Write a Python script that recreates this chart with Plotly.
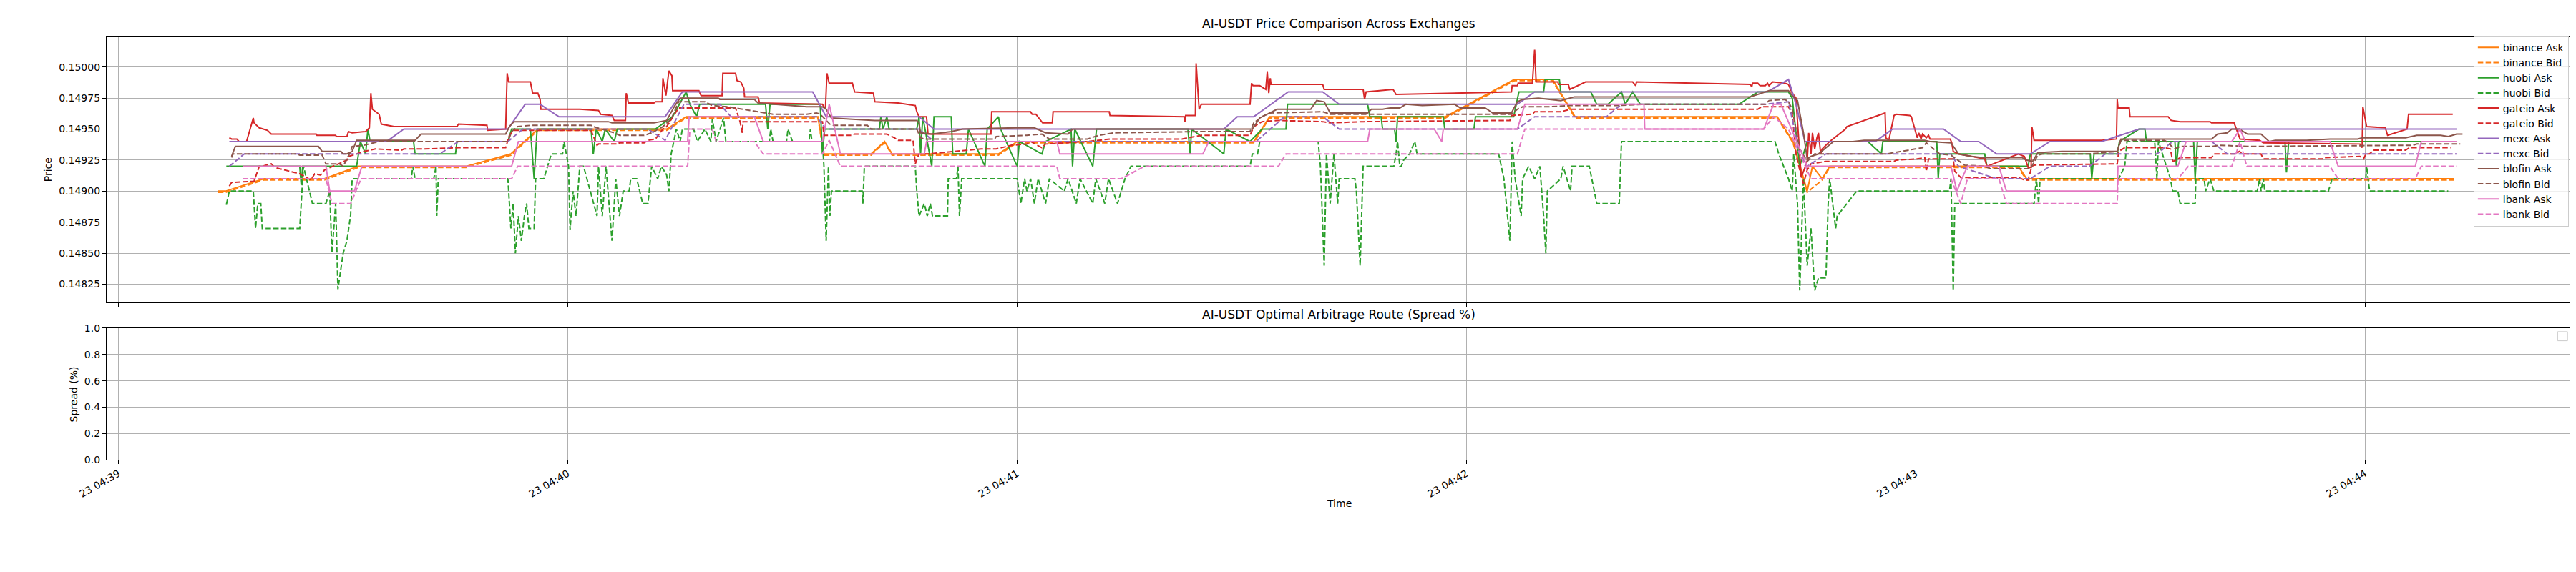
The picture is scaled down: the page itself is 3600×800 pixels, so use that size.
import pandas as pd
import plotly.graph_objects as go

# AI-USDT ask/bid quotes per exchange, (seconds after 04:39:00, price)
# only the turning points of each line

binance_ask = [
    (13.3, .14900), (14.3, .14900), (19.4, .14910), (27.5, .14910), (32.0, .14920), (46.4, .14920),
    (52.4, .14930), (56.0, .14950), (73.2, .14950), (75.8, .14960), (93.4, .14960), (94.2, .14930),
    (100.5, .14930), (102.3, .14940), (103.3, .14930), (117.5, .14930), (120.0, .14940), (151.6, .14940),
    (153.7, .14960), (177.2, .14960), (186.4, .14990), (191.5, .14990), (194.5, .14960), (221.5, .14960),
    (223.6, .14940), (225.5, .14900), (226.2, .14920), (227.5, .14910), (228.5, .14920), (253.7, .14920),
    (254.8, .14910), (311.9, .14910)
]
binance_bid = [
    (13.3, .14899), (14.3, .14899), (19.4, .14909), (27.5, .14909), (32.0, .14919), (46.4, .14919),
    (52.4, .14929), (56.0, .14949), (73.2, .14949), (75.8, .14959), (93.4, .14959), (94.2, .14929),
    (100.5, .14929), (102.3, .14939), (103.3, .14929), (117.5, .14929), (120.0, .14939), (151.6, .14939),
    (153.7, .14959), (177.2, .14959), (186.4, .14989), (191.5, .14989), (194.5, .14959), (221.5, .14959),
    (223.6, .14939), (225.5, .14899), (227.5, .14909), (228.5, .14919), (253.7, .14919), (254.8, .14909),
    (311.9, .14909)
]
huobi_ask = [
    (14.4, .14920), (24.2, .14920), (24.4, .14905), (24.6, .14920), (31.8, .14920), (32.3, .14940),
    (33.0, .14930), (33.3, .14950), (33.6, .14940), (39.4, .14940), (39.6, .14930), (45.0, .14930),
    (45.2, .14940), (52.0, .14940), (52.5, .14950), (55.0, .14950), (55.5, .14910), (55.9, .14950),
    (63.1, .14950), (63.4, .14930), (63.8, .14950), (64.6, .14940), (65.0, .14950), (66.2, .14940),
    (66.6, .14950), (71.7, .14950), (74.0, .14960), (75.8, .14980), (76.3, .14970), (77.2, .14960),
    (77.6, .14970), (86.4, .14970), (86.7, .14950), (87.0, .14970),
    (93.7, .14970), (94.0, .14930), (94.3, .14950), (101.6, .14950), (101.8, .14960), (102.1, .14950),
    (102.6, .14960), (102.9, .14950), (106.6, .14950), (106.9, .14960), (107.1, .14930), (107.4, .14960),
    (108.6, .14920), (108.9, .14960), (111.2, .14960), (111.4, .14930), (113.2, .14930), (113.5, .14950),
    (115.7, .14920), (116.0, .14950), (117.5, .14960), (117.8, .14950), (120.0, .14920), (120.3, .14940),
    (123.3, .14930), (123.8, .14940), (127.2, .14950), (127.4, .14920), (127.7, .14950), (130.1, .14920),
    (130.6, .14950), (142.8, .14950), (143.1, .14930), (143.3, .14950), (147.6, .14930), (147.9, .14950),
    (151.1, .14940), (152.7, .14950), (155.9, .14950), (156.1, .14970), (166.8, .14970), (167.1, .14960),
    (168.6, .14960), (168.8, .14950), (170.4, .14950), (170.6, .14940), (170.8, .14960), (176.9, .14960),
    (177.1, .14950), (181.0, .14950), (181.2, .14960), (186.3, .14960), (187.0, .14980), (190.3, .14980),
    (190.5, .14990), (192.4, .14990), (192.6, .14980), (196.6, .14980), (197.4, .14970), (198.9, .14970),
    (200.7, .14980), (201.2, .14970), (202.2, .14980), (203.2, .14970), (216.4, .14970), (218.9, .14980),
    (223.0, .14980), (223.5, .14975), (224.5, .14920), (225.5, .14940), (233.6, .14940), (235.4, .14930),
    (235.6, .14940), (242.8, .14940), (243.0, .14910), (243.2, .14930),
    (249.2, .14930), (249.5, .14920), (255.0, .14920), (255.3, .14930), (263.3, .14930), (263.5, .14910),
    (263.8, .14930), (266.9, .14930), (267.2, .14940), (269.8, .14950), (270.6, .14950), (270.8, .14940),
    (274.6, .14940), (274.8, .14920), (275.1, .14940), (277.1, .14940), (277.3, .14910), (277.6, .14940),
    (289.3, .14940), (289.5, .14915), (289.8, .14940), (311.9, .14940)
]
huobi_bid = [
    (14.4, .14889), (14.8, .14900), (18.0, .14900), (18.3, .14870), (18.6, .14890), (19.0, .14890),
    (19.2, .14870), (24.2, .14870), (24.7, .14920), (25.9, .14890), (27.7, .14890), (28.2, .14900),
    (28.5, .14850), (29.0, .14890), (29.3, .14821), (30.0, .14850), (30.5, .14860), (31.0, .14881),
    (31.2, .14910), (39.1, .14910), (39.3, .14920), (39.6, .14910), (42.1, .14910), (42.4, .14920),
    (42.5, .14880), (42.7, .14910), (52.0, .14910), (52.4, .14870), (52.7, .14890), (53.0, .14850),
    (53.4, .14880), (53.8, .14860), (54.2, .14880), (54.5, .14890), (54.8, .14870), (55.5, .14870),
    (55.7, .14910), (56.8, .14910), (57.8, .14930), (59.3, .14930), (59.5, .14940), (59.8, .14930),
    (60.1, .14920), (60.3, .14869), (60.7, .14900), (61.1, .14880), (61.6, .14920), (62.1, .14920),
    (63.9, .14880), (64.1, .14920), (64.6, .14880), (65.1, .14920), (65.9, .14860), (66.4, .14910),
    (66.9, .14880), (67.4, .14900), (68.2, .14900), (68.4, .14910), (69.2, .14910), (70.0, .14890),
    (70.7, .14890), (71.2, .14920), (72.0, .14910), (72.5, .14920), (73.2, .14913), (73.5, .14900),
    (73.8, .14930), (74.5, .14950), (75.0, .14940), (75.3, .14950), (76.8, .14950), (77.3, .14940),
    (78.3, .14950), (79.1, .14940), (79.3, .14958), (79.8, .14940), (80.8, .14959), (81.1, .14940),
    (86.9, .14940), (87.1, .14950), (87.4, .14940), (89.2, .14940), (89.4, .14950),
    (90.0, .14940), (92.2, .14940), (92.4, .14950), (92.6, .14940), (94.0, .14940), (94.2, .14920),
    (94.5, .14860), (94.8, .14920), (95.0, .14880), (95.2, .14900), (99.3, .14900), (99.4, .14890),
    (99.6, .14920), (106.4, .14920), (106.6, .14900), (106.9, .14880), (107.6, .14890), (108.0, .14880),
    (108.4, .14890), (108.7, .14880), (110.7, .14880), (110.8, .14910), (111.9, .14910), (112.1, .14920),
    (112.3, .14880), (112.6, .14910), (120.0, .14910), (120.5, .14890), (121.0, .14910), (121.3, .14900),
    (121.8, .14910), (122.3, .14890), (122.8, .14910), (123.8, .14890), (124.3, .14910), (126.3, .14900),
    (126.8, .14910), (127.9, .14890), (128.4, .14910), (130.1, .14890), (130.5, .14910), (131.7, .14890),
    (132.2, .14910), (133.4, .14890), (134.4, .14910), (135.2, .14920), (151.1, .14920), (151.4, .14930),
    (152.1, .14930), (152.4, .14940), (160.2, .14940), (160.5, .14920), (161.0, .14840), (161.3, .14930),
    (161.8, .14890), (162.3, .14930), (162.8, .14890), (163.0, .14910), (165.1, .14910), (165.3, .14900),
    (165.8, .14840), (166.2, .14920), (168.2, .14920),
    (170.3, .14920), (170.6, .14930), (170.8, .14940), (171.1, .14920), (171.3, .14920), (171.6, .14925),
    (172.4, .14930), (173.1, .14940), (173.4, .14930), (184.3, .14930), (185.0, .14910), (185.8, .14860),
    (186.1, .14940), (186.5, .14910), (187.3, .14880), (187.5, .14910), (188.3, .14920), (189.1, .14910),
    (189.8, .14920), (190.3, .14880), (190.6, .14850), (190.8, .14900), (192.6, .14910), (192.9, .14920),
    (193.9, .14900), (194.1, .14920), (196.4, .14920), (197.4, .14890), (200.4, .14890), (200.7, .14940),
    (221.2, .14940), (221.7, .14930), (223.0, .14910), (223.5, .14900), (223.7, .14930), (224.2, .14890),
    (224.5, .14820), (225.0, .14910), (225.5, .14840), (226.0, .14870), (226.5, .14820), (227.0, .14830),
    (228.0, .14830), (228.3, .14890), (228.5, .14910), (229.3, .14870), (229.5, .14880), (232.1, .14900),
    (244.5, .14900), (244.7, .14910), (245.0, .14820), (245.2, .14890),
    (255.8, .14890), (256.1, .14910), (256.4, .14890), (256.6, .14910), (267.1, .14910), (267.9, .14920),
    (268.2, .14940), (271.9, .14940), (272.2, .14910), (272.4, .14940), (274.0, .14910), (274.3, .14900),
    (275.0, .14900), (275.3, .14890), (277.3, .14890), (277.4, .14910), (278.5, .14910), (278.7, .14900),
    (279.3, .14910), (279.8, .14900), (285.6, .14900), (285.9, .14910), (286.1, .14900), (286.4, .14910),
    (286.6, .14900), (295.1, .14900), (295.6, .14910), (300.1, .14910), (300.2, .14920), (300.6, .14900),
    (311.1, .14900)
]
gateio_ask = [
    (14.8, .14943), (15.1, .14942), (15.8, .14942), (16.1, .14940), (17.1, .14940), (18.0, .14959),
    (18.1, .14955), (18.8, .14951), (19.9, .14949), (20.4, .14946), (26.4, .14946), (26.5, .14945),
    (29.0, .14945), (29.1, .14944), (30.5, .14944), (30.7, .14948), (31.2, .14947), (33.0, .14948),
    (33.5, .14951), (33.7, .14979), (33.9, .14966), (34.3, .14964), (34.8, .14962), (35.1, .14954),
    (36.8, .14952), (45.2, .14952), (45.4, .14954), (49.2, .14953), (49.3, .14949), (51.7, .14950),
    (51.9, .14995), (52.1, .14988), (55.0, .14988), (55.3, .14979), (56.0, .14979), (56.3, .14974),
    (56.4, .14966), (61.6, .14966), (64.1, .14965), (64.4, .14962), (65.9, .14961), (66.2, .14957),
    (67.7, .14957), (67.8, .14979), (68.1, .14971), (71.5, .14971), (71.7, .14972), (72.6, .14972),
    (72.7, .14991), (73.1, .14977), (73.5, .14997), (73.9, .14993), (74.0, .14981), (77.5, .14981),
    (77.8, .14977), (80.6, .14977), (80.7, .14995), (82.4, .14995), (82.6, .14989), (83.1, .14988),
    (83.5, .14983), (83.6, .14976), (85.4, .14976), (85.6, .14971),
    (94.0, .14970), (94.4, .14966), (94.6, .14995), (94.9, .14987), (98.0, .14987), (98.3, .14980),
    (100.8, .14979), (101.0, .14972), (104.1, .14971), (106.4, .14969), (106.6, .14964), (106.9, .14960),
    (107.9, .14960), (108.1, .14946), (116.5, .14946), (116.6, .14964), (121.8, .14964), (122.0, .14962),
    (122.5, .14962), (123.4, .14955), (124.7, .14955), (124.8, .14964), (132.3, .14964), (132.4, .14961),
    (142.3, .14960), (142.4, .14956), (142.5, .14961), (143.8, .14961), (143.9, .15003), (144.3, .14966),
    (144.6, .14970), (151.1, .14970), (151.3, .14987), (151.5, .14985), (152.4, .14985), (153.2, .14982),
    (153.4, .14996), (153.6, .14979), (153.8, .14991), (153.9, .14986), (160.8, .14986), (161.0, .14982),
    (166.2, .14982), (166.4, .14974), (166.6, .14980),
    (170.2, .14982), (170.6, .14978), (186.0, .14980), (186.1, .14985), (186.8, .14985), (186.9, .14987),
    (188.8, .14987), (189.1, .15014), (189.3, .14988), (192.2, .14988), (192.3, .14986), (193.6, .14986),
    (193.8, .14982), (195.9, .14988), (202.2, .14988), (202.6, .14985), (202.7, .14988), (217.9, .14986),
    (218.1, .14984), (218.2, .14987), (218.9, .14987), (219.2, .14985), (219.9, .14985), (220.2, .14987),
    (220.4, .14985), (220.9, .14988), (222.5, .14987), (223.0, .14986), (223.5, .14979), (224.0, .14975),
    (224.7, .14911), (225.5, .14924), (225.7, .14947), (226.0, .14930), (226.2, .14947), (226.5, .14934),
    (226.8, .14943), (227.0, .14947), (227.3, .14930), (227.5, .14934), (228.5, .14940), (230.6, .14950),
    (230.8, .14952), (235.9, .14963), (236.0, .14943), (236.4, .14941), (237.1, .14961), (237.4, .14962),
    (239.2, .14961), (239.4, .14960), (240.2, .14943), (240.4, .14947), (240.7, .14942), (240.9, .14946),
    (241.4, .14943), (241.7, .14945), (241.9, .14942), (244.6, .14942), (244.8, .14939), (245.0, .14932),
    (245.7, .14930),
    (247.4, .14928), (249.2, .14926), (249.5, .14920), (253.7, .14930), (254.5, .14928), (255.0, .14919),
    (255.4, .14919), (255.5, .14952), (255.8, .14941), (264.8, .14941), (266.8, .14942), (266.9, .14974),
    (267.0, .14967), (268.5, .14967), (268.6, .14960), (273.7, .14960), (274.1, .14957), (275.3, .14956),
    (279.3, .14956), (279.5, .14955), (282.5, .14955), (282.7, .14952), (283.3, .14942), (285.9, .14941),
    (286.4, .14939), (299.3, .14938), (299.6, .14935), (299.7, .14968), (300.0, .14958), (300.2, .14952),
    (302.7, .14951), (303.0, .14945), (305.6, .14950), (305.8, .14962), (311.7, .14962)
]
gateio_bid = [
    (14.8, .14904), (15.1, .14907), (18.1, .14908), (18.8, .14920), (19.1, .14920), (20.4, .14922),
    (20.9, .14919), (24.2, .14914), (25.7, .14909), (26.2, .14914), (27.0, .14913), (27.5, .14917),
    (30.5, .14925), (30.7, .14928), (31.8, .14930), (32.8, .14932), (34.3, .14934), (37.8, .14933),
    (38.1, .14934), (40.9, .14934), (45.4, .14935), (51.7, .14935), (52.2, .14945), (52.8, .14949),
    (63.1, .14949), (63.9, .14937), (64.1, .14938), (66.7, .14938), (66.9, .14939), (70.2, .14939),
    (70.7, .14941), (71.7, .14942), (72.7, .14950), (73.2, .14952), (74.8, .14967), (82.4, .14967),
    (83.0, .14956), (83.3, .14947), (83.4, .14956),
    (94.0, .14956), (94.2, .14945), (98.0, .14945), (98.3, .14946), (102.6, .14946), (103.6, .14943),
    (104.1, .14941), (106.1, .14941), (106.4, .14922), (106.9, .14930), (108.1, .14930), (115.2, .14934),
    (117.2, .14934), (119.3, .14937), (121.3, .14938), (121.8, .14940), (123.3, .14935), (123.8, .14938),
    (129.4, .14940), (130.9, .14941), (132.4, .14942), (142.0, .14942), (144.6, .14945), (151.1, .14945),
    (151.6, .14952), (152.7, .14956), (154.7, .14957), (160.8, .14956), (161.8, .14955), (166.3, .14956),
    (185.8, .14957), (186.0, .14961), (188.8, .14962), (189.1, .14964), (192.6, .14964), (193.9, .14966),
    (218.9, .14966), (219.4, .14968), (223.0, .14968), (223.5, .14962), (224.0, .14930), (224.5, .14917),
    (225.0, .14906), (225.5, .14917), (226.0, .14922), (228.0, .14924), (237.1, .14924), (237.4, .14925),
    (240.2, .14926), (241.2, .14927), (241.4, .14916), (241.7, .14926), (245.0, .14926), (245.2, .14916),
    (246.0, .14911),
    (253.7, .14911), (254.5, .14909), (255.0, .14909), (255.5, .14920), (255.8, .14921), (266.9, .14922),
    (267.1, .14932), (267.9, .14935), (273.2, .14935), (274.0, .14934), (274.3, .14924), (274.8, .14925),
    (275.3, .14927), (279.5, .14927), (279.8, .14930), (282.7, .14930), (283.2, .14932), (283.7, .14930),
    (286.1, .14930), (286.4, .14926), (294.3, .14926), (294.5, .14927), (299.3, .14928), (299.8, .14926),
    (300.1, .14930), (300.6, .14930), (301.1, .14933), (305.4, .14933), (305.9, .14935), (311.4, .14935)
]
mexc_ask = [
    (14.8, .14940), (35.8, .14940), (38.1, .14950), (52.0, .14950), (54.3, .14970), (56.3, .14970),
    (58.8, .14960), (73.0, .14960), (75.3, .14980), (92.7, .14980), (94.5, .14960), (106.9, .14960),
    (108.9, .14950), (147.6, .14950), (149.4, .14960), (151.6, .14960), (156.2, .14980), (160.8, .14980),
    (163.0, .14970), (186.8, .14970), (189.1, .14980), (220.2, .14980), (223.0, .14990), (224.0, .14970),
    (225.2, .14940), (234.6, .14940), (236.9, .14950), (243.7, .14950), (246.0, .14940), (248.4, .14940),
    (250.8, .14930), (255.3, .14930), (257.9, .14940), (264.8, .14940), (269.8, .14950), (312.2, .14950)
]
mexc_bid = [
    (14.8, .14920), (16.8, .14930), (42.9, .14930), (45.4, .14940), (52.0, .14940), (54.0, .14950),
    (70.7, .14950), (73.0, .14941), (75.5, .14970), (80.3, .14970), (81.8, .14960), (93.2, .14960),
    (94.5, .14950), (106.9, .14950), (108.9, .14940), (151.9, .14940), (155.7, .14960), (160.8, .14960),
    (163.0, .14950), (186.8, .14950), (189.1, .14960), (198.7, .14960), (200.7, .14970), (219.9, .14970),
    (223.0, .14972), (224.5, .14930), (225.5, .14920), (228.0, .14930), (244.7, .14930), (245.7, .14920),
    (250.8, .14910), (255.3, .14910), (257.9, .14920), (263.2, .14920), (265.3, .14930), (272.2, .14930),
    (274.3, .14940), (279.5, .14940), (281.6, .14930), (312.2, .14930)
]
blofin_ask = [
    (15.1, .14928), (15.6, .14936), (26.7, .14936), (27.2, .14932), (29.7, .14932), (30.0, .14930),
    (30.5, .14930), (31.2, .14932), (31.8, .14941), (39.6, .14941), (40.4, .14946), (51.7, .14946),
    (52.2, .14952), (52.8, .14956), (65.4, .14956), (65.9, .14955), (71.5, .14955), (73.2, .14957),
    (74.3, .14969), (75.0, .14975), (80.1, .14975), (80.3, .14974), (84.9, .14974), (85.4, .14971),
    (91.9, .14968), (94.0, .14968), (94.5, .14966), (95.2, .14959), (98.0, .14958), (101.0, .14957),
    (106.6, .14957), (106.9, .14955), (107.1, .14947), (108.6, .14946), (111.2, .14948), (112.7, .14950),
    (119.8, .14951), (122.3, .14951), (123.8, .14947), (126.8, .14946), (127.4, .14950), (151.4, .14950),
    (152.4, .14959), (154.7, .14966), (159.2, .14966), (160.0, .14973), (161.0, .14972), (161.8, .14963),
    (166.8, .14963), (167.3, .14966), (168.8, .14966), (169.8, .14967), (171.1, .14967), (171.9, .14970),
    (174.1, .14969), (178.4, .14970), (179.2, .14967), (182.5, .14967), (183.5, .14963), (186.0, .14963),
    (186.8, .14972), (187.5, .14974), (189.6, .14975), (191.1, .14974), (192.6, .14973), (194.4, .14976),
    (217.9, .14976), (220.4, .14981), (223.0, .14981), (223.5, .14977), (224.2, .14973), (225.0, .14947),
    (225.5, .14926), (226.0, .14928), (227.0, .14930), (229.0, .14940), (231.6, .14940), (233.1, .14941),
    (241.2, .14941), (241.9, .14940), (244.7, .14939), (245.7, .14930), (247.4, .14928), (249.0, .14927),
    (254.2, .14927), (254.8, .14925), (255.6, .14924), (256.3, .14931), (259.5, .14932), (266.9, .14932),
    (267.4, .14942), (279.5, .14942), (280.3, .14946), (281.6, .14947), (282.2, .14950), (283.2, .14950),
    (284.3, .14946), (286.1, .14946), (287.2, .14940), (288.0, .14941), (292.2, .14941), (295.3, .14942),
    (299.0, .14942), (299.6, .14943), (305.4, .14943), (306.9, .14945), (310.1, .14945), (311.1, .14944),
    (312.2, .14946), (313.0, .14946)
]
blofin_bid = [
    (15.1, .14927), (15.3, .14930), (23.9, .14930), (24.2, .14929), (27.2, .14929), (27.7, .14922),
    (29.5, .14922), (30.0, .14920), (31.0, .14932), (31.2, .14936), (32.8, .14937), (34.3, .14939),
    (34.8, .14940), (52.0, .14940), (52.5, .14948), (53.3, .14952), (55.0, .14953), (63.1, .14953),
    (63.4, .14952), (66.2, .14947), (66.9, .14945), (70.2, .14945), (71.2, .14947), (72.7, .14952),
    (73.8, .14958), (74.8, .14972), (78.3, .14972), (79.3, .14969), (81.3, .14968), (83.4, .14966),
    (87.4, .14962), (91.9, .14962), (93.2, .14963), (93.7, .14962), (95.0, .14954), (95.5, .14953),
    (100.0, .14953), (100.5, .14950), (106.6, .14950), (107.1, .14943), (107.6, .14942), (117.0, .14942),
    (117.2, .14944), (121.3, .14945), (123.3, .14946), (124.3, .14942), (129.4, .14942), (130.9, .14945),
    (132.9, .14947), (144.6, .14948), (151.1, .14948), (151.6, .14955), (152.7, .14960), (153.7, .14963),
    (159.2, .14964), (160.8, .14964), (161.8, .14962), (186.0, .14962), (186.8, .14966), (187.5, .14968),
    (191.1, .14968), (193.9, .14969), (200.2, .14969), (203.7, .14970), (219.9, .14970), (220.4, .14973),
    (222.5, .14974), (223.0, .14972), (223.5, .14966), (224.5, .14934), (225.5, .14924), (226.0, .14927),
    (226.5, .14930), (236.1, .14930), (240.2, .14934), (240.9, .14935), (241.4, .14939), (242.2, .14935),
    (242.7, .14933), (243.2, .14930), (244.7, .14929), (246.5, .14921), (249.2, .14920), (250.0, .14918),
    (255.3, .14918), (256.3, .14929), (256.9, .14930), (263.2, .14930), (266.9, .14932), (267.4, .14941),
    (273.2, .14941), (273.7, .14939), (274.5, .14934), (275.3, .14936), (279.5, .14936), (280.6, .14937),
    (284.3, .14936), (306.4, .14937), (306.9, .14938), (312.7, .14938)
]
lbank_ask = [
    (16.6, .14920), (27.7, .14920), (28.2, .14900), (31.5, .14900), (32.5, .14920), (52.5, .14920),
    (53.4, .14940), (76.0, .14940), (76.2, .14960), (84.9, .14960), (86.1, .14940), (94.0, .14940),
    (94.9, .14970), (96.4, .14930), (107.6, .14930), (107.9, .14940), (125.3, .14940), (125.7, .14930),
    (144.8, .14930), (145.6, .14940), (166.8, .14940), (167.1, .14950), (175.7, .14950), (176.7, .14940),
    (176.9, .14950), (186.8, .14950), (187.8, .14970), (203.7, .14970), (203.8, .14950), (219.7, .14950),
    (221.0, .14970), (222.0, .14970), (225.5, .14920), (244.7, .14920), (245.5, .14900), (246.0, .14908),
    (246.9, .14920), (251.1, .14920), (252.1, .14900), (266.9, .14900), (267.0, .14920), (275.0, .14920),
    (276.1, .14940), (282.2, .14940), (283.3, .14950), (284.0, .14940), (295.3, .14940), (296.4, .14920),
    (306.7, .14920), (307.5, .14940), (312.2, .14940)
]
lbank_bid = [
    (16.6, .14910), (27.7, .14910), (28.5, .14890), (31.0, .14890), (32.4, .14910), (52.5, .14910),
    (53.3, .14920), (76.0, .14920), (76.3, .14950), (79.3, .14950), (79.8, .14940), (84.9, .14940),
    (86.1, .14930), (94.0, .14930), (94.9, .14941), (96.4, .14920), (125.3, .14920), (125.7, .14910),
    (133.9, .14910), (137.0, .14920), (154.9, .14920), (155.9, .14930), (186.8, .14930), (187.8, .14950),
    (219.7, .14950), (221.0, .14960), (223.0, .14950), (226.0, .14910), (244.7, .14910), (246.0, .14890),
    (246.9, .14910), (251.1, .14910), (252.1, .14890), (266.9, .14890), (267.0, .14910), (275.0, .14910),
    (276.4, .14920), (282.2, .14920), (283.3, .14940), (284.2, .14920), (295.3, .14920), (296.4, .14910),
    (306.7, .14910), (307.5, .14920), (312.2, .14920)
]

exchanges = ["binance", "huobi", "gateio", "mexc", "blofin", "lbank"]
colors = ["#ff7f0e", "#2ca02c", "#d62728", "#9467bd", "#8c564b", "#e377c2"]
quotes = {
    "binance": (binance_ask, binance_bid),
    "huobi": (huobi_ask, huobi_bid),
    "gateio": (gateio_ask, gateio_bid),
    "mexc": (mexc_ask, mexc_bid),
    "blofin": (blofin_ask, blofin_bid),
    "lbank": (lbank_ask, lbank_bid),
}

start = pd.Timestamp("2025-01-23 04:39:00")
x_range = [start + pd.Timedelta(seconds=-1.6), start + pd.Timedelta(seconds=327.6)]

FONT = "DejaVu Sans"
fig = go.Figure()

for name, color in zip(exchanges, colors):
    for side, pts, dash in [("Ask", quotes[name][0], "solid"), ("Bid", quotes[name][1], "7.5px,3.3px")]:
        df = pd.DataFrame(pts, columns=["sec", "price"])
        df["time"] = start + pd.to_timedelta(df["sec"], unit="s")
        fig.add_trace(go.Scatter(
            x=df["time"], y=df["price"],
            mode="lines",
            name=f"{name} {side}",
            line=dict(color=color, width=2, dash=dash),
            xaxis="x", yaxis="y",
        ))

axis_common = dict(
    showline=True, mirror=True, linecolor="black", linewidth=1,
    ticks="outside", ticklen=5, tickcolor="black",
    showgrid=True, gridcolor="#b0b0b0", gridwidth=1,
    zeroline=False,
    tickfont=dict(family=FONT, size=14, color="black"),
)

fig.update_layout(
    width=3600, height=800,
    margin=dict(l=0, r=0, t=0, b=0),
    plot_bgcolor="white", paper_bgcolor="white",
    font=dict(family=FONT, size=14, color="black"),
    showlegend=True,
    legend=dict(
        x=0.9949, xanchor="right", y=0.957, yanchor="top",
        bgcolor="rgba(255,255,255,0.8)", bordercolor="#cccccc", borderwidth=1,
        font=dict(family=FONT, size=14), itemwidth=30,
    ),
    xaxis=dict(
        axis_common, domain=[0.02833, 0.99611], anchor="y", type="date",
        range=x_range, dtick=60000, tick0=start, showticklabels=False,
    ),
    yaxis=dict(
        axis_common, domain=[0.48125, 0.95375], anchor="x",
        range=[0.148105, 0.150239], tick0=0.14825, dtick=0.00025, tickformat=".5f",
    ),
    xaxis2=dict(
        axis_common, domain=[0.02833, 0.99611], anchor="y2", type="date", matches="x",
        range=x_range, dtick=60000, tick0=start, tickformat="%d %H:%M", tickangle=-30,
    ),
    yaxis2=dict(
        axis_common, domain=[0.2, 0.435], anchor="x2",
        range=[0, 1], dtick=0.2, tickformat=".1f",
    ),
)

# empty spread panel (no route found in this window)
fig.add_trace(go.Scatter(x=[], y=[], xaxis="x2", yaxis="y2", showlegend=False))

fig.add_annotation(text="AI-USDT Price Comparison Across Exchanges", xref="paper", yref="paper",
                   x=0.5122, y=0.95375, yshift=7, xanchor="center", yanchor="bottom",
                   showarrow=False, font=dict(family=FONT, size=17))
fig.add_annotation(text="AI-USDT Optimal Arbitrage Route (Spread %)", xref="paper", yref="paper",
                   x=0.5122, y=0.435, yshift=7, xanchor="center", yanchor="bottom",
                   showarrow=False, font=dict(family=FONT, size=17))
fig.add_annotation(text="Price", xref="paper", yref="paper", x=20 / 3600, y=0.7175,
                   textangle=-90, showarrow=False, xanchor="center", yanchor="middle",
                   font=dict(family=FONT, size=14))
fig.add_annotation(text="Spread (%)", xref="paper", yref="paper", x=56 / 3600, y=0.3175,
                   textangle=-90, showarrow=False, xanchor="center", yanchor="middle",
                   font=dict(family=FONT, size=14))
fig.add_annotation(text="Time", xref="paper", yref="paper", x=0.5122, y=0.1225,
                   showarrow=False, xanchor="center", yanchor="middle",
                   font=dict(family=FONT, size=14))

# the empty legend box matplotlib leaves in the lower panel
fig.add_shape(type="rect", xref="paper", yref="paper",
              x0=3566 / 3600, x1=3580 / 3600, y0=1 - 470 / 800, y1=1 - 457 / 800,
              line=dict(color="#cccccc", width=1), fillcolor="rgba(255,255,255,0.8)")

fig.write_html("out.html")
